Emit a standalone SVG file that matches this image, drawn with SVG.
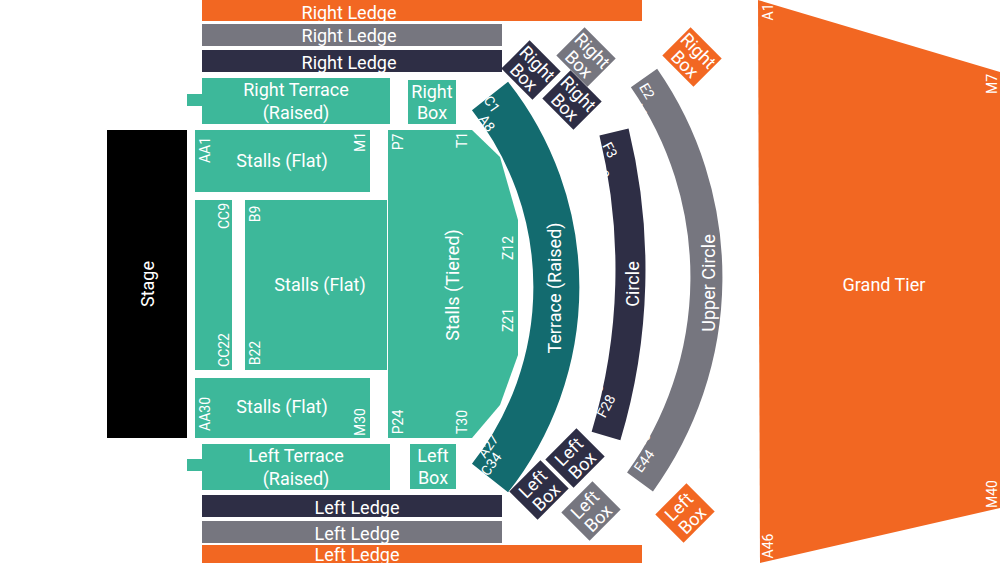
<svg xmlns="http://www.w3.org/2000/svg" width="1000" height="563" viewBox="0 0 1000 563">
<style>
text{font-family:Roboto,"Liberation Sans",sans-serif;fill:#fff;text-anchor:middle;dominant-baseline:central}
.l{font-size:18px}.s{font-size:14px}
.teal{fill:#3db89a}.dteal{fill:#136b6f}.navy{fill:#2e2e45}.gray{fill:#76767f}.or{fill:#f26722}
</style>
<rect width="1000" height="563" fill="#fff"/>
<g id="stage"><rect x="107" y="130" width="80" height="308" fill="#000"/><text class="l" transform="translate(147,284) rotate(-90)">Stage</text></g>
<g id="ledges">
<rect class="or" x="202" y="0" width="440" height="21"/><text class="l" x="349" y="12">Right Ledge</text>
<rect class="gray" x="202" y="24" width="300" height="22"/><text class="l" x="349" y="35">Right Ledge</text>
<rect class="navy" x="202" y="50" width="300" height="22"/><text class="l" x="349" y="62">Right Ledge</text>
<rect class="navy" x="202" y="495" width="300" height="22"/><text class="l" x="357" y="507">Left Ledge</text>
<rect class="gray" x="202" y="521" width="300" height="22"/><text class="l" x="357" y="533">Left Ledge</text>
<rect class="or" x="202" y="545" width="440" height="18"/><text class="l" x="357" y="554">Left Ledge</text>
</g>
<g id="terraces">
<rect class="teal" x="202" y="78" width="188" height="46"/><rect class="teal" x="187" y="94" width="16" height="12"/>
<text class="l" x="296" y="89">Right Terrace</text><text class="l" x="296" y="112">(Raised)</text>
<rect class="teal" x="202" y="444" width="188" height="46"/><rect class="teal" x="187" y="459" width="16" height="12"/>
<text class="l" x="296" y="455">Left Terrace</text><text class="l" x="296" y="478">(Raised)</text>
</g>
<g id="stalls-flat">
<rect class="teal" x="195" y="130" width="175" height="62"/><text class="l" x="282" y="160">Stalls (Flat)</text>
<text class="s" transform="translate(205,150) rotate(-90)">AA1</text><text class="s" transform="translate(360,142) rotate(-90)">M1</text>
<rect class="teal" x="195" y="200" width="37" height="170"/>
<text class="s" transform="translate(224,216) rotate(-90)">CC9</text><text class="s" transform="translate(224,350) rotate(-90)">CC22</text>
<rect class="teal" x="245" y="200" width="142" height="170"/><text class="l" x="320" y="284">Stalls (Flat)</text>
<text class="s" transform="translate(255,214) rotate(-90)">B9</text><text class="s" transform="translate(255,353) rotate(-90)">B22</text>
<rect class="teal" x="195" y="378" width="175" height="60"/><text class="l" x="282" y="406">Stalls (Flat)</text>
<text class="s" transform="translate(205,414) rotate(-90)">AA30</text><text class="s" transform="translate(360,422) rotate(-90)">M30</text>
</g>
<g id="stalls-tiered">
<polygon class="teal" points="388,130 472,130 500,157 518,220 518,355 500,405 472,438 388,438"/>
<text class="l" transform="translate(452,285) rotate(-90)">Stalls (Tiered)</text>
<text class="s" transform="translate(398,142) rotate(-90)">P7</text><text class="s" transform="translate(462,140) rotate(-90)">T1</text>
<text class="s" transform="translate(398,422) rotate(-90)">P24</text><text class="s" transform="translate(462,422) rotate(-90)">T30</text>
<text class="s" transform="translate(508,248) rotate(-90)">Z12</text><text class="s" transform="translate(508,320) rotate(-90)">Z21</text>
</g>
<g id="teal-boxes">
<rect class="teal" x="408" y="80" width="48" height="44"/><text class="l" x="432" y="91">Right</text><text class="l" x="432" y="112">Box</text>
<rect class="teal" x="410" y="444" width="46" height="45"/><text class="l" x="433" y="455">Left</text><text class="l" x="433" y="477">Box</text>
</g>
<g id="terrace">
<path d="M490,96 A308,308 0 0 1 490,478" fill="none" stroke="#136b6f" stroke-width="46"/>
<text class="l" transform="translate(554,288) rotate(-90)">Terrace (Raised)</text>
<text class="s" transform="translate(492,104) rotate(55)">C1</text><text class="s" transform="translate(487,123) rotate(55)">A8</text>
<text class="s" transform="translate(488,446) rotate(-55)">A27</text><text class="s" transform="translate(491,464) rotate(-55)">C34</text>
</g>
<g id="circle">
<path d="M614,132 A580,580 0 0 1 606,436" fill="none" stroke="#2e2e45" stroke-width="30"/>
<text class="l" transform="translate(632,284) rotate(-90)">Circle</text>
<text class="s" transform="translate(610,150) rotate(62)">F3</text><text class="s" transform="translate(600,167) rotate(62)">A10</text>
<text class="s" transform="translate(594,395) rotate(-62)">A28</text><text class="s" transform="translate(606,406) rotate(-62)">F28</text>
</g>
<g id="upper-circle">
<path d="M644,78 A349,349 0 0 1 640,482" fill="none" stroke="#76767f" stroke-width="32"/>
<text class="l" transform="translate(708,283) rotate(-90)">Upper Circle</text>
<text class="s" transform="translate(647,91) rotate(60)">E2</text><text class="s" transform="translate(640,110) rotate(60)">A1</text>
<text class="s" transform="translate(640,443) rotate(-55)">A45</text><text class="s" transform="translate(644,461) rotate(-55)">E44</text>
</g>
<g id="angled-boxes">
<g transform="translate(531,70) rotate(45)"><rect class="navy" x="-22" y="-20" width="44" height="40"/><text class="l" y="-9">Right</text><text class="l" y="10">Box</text></g>
<g transform="translate(586,57) rotate(45)"><rect class="gray" x="-22" y="-20" width="44" height="40"/><text class="l" y="-9">Right</text><text class="l" y="10">Box</text></g>
<g transform="translate(572,100) rotate(45)"><rect class="navy" x="-22" y="-20" width="44" height="40"/><text class="l" y="-9">Right</text><text class="l" y="10">Box</text></g>
<g transform="translate(692,57) rotate(45)"><rect class="or" x="-22" y="-20" width="44" height="40"/><text class="l" y="-9">Right</text><text class="l" y="10">Box</text></g>
<g transform="translate(539,490) rotate(-45)"><rect class="navy" x="-22" y="-20" width="44" height="40"/><text class="l" y="-9">Left</text><text class="l" y="10">Box</text></g>
<g transform="translate(575,458) rotate(-45)"><rect class="navy" x="-22" y="-20" width="44" height="40"/><text class="l" y="-9">Left</text><text class="l" y="10">Box</text></g>
<g transform="translate(591,511) rotate(-45)"><rect class="gray" x="-22" y="-20" width="44" height="40"/><text class="l" y="-9">Left</text><text class="l" y="10">Box</text></g>
<g transform="translate(685,513) rotate(-45)"><rect class="or" x="-22" y="-20" width="44" height="40"/><text class="l" y="-9">Left</text><text class="l" y="10">Box</text></g>
</g>
<g id="grand-tier">
<polygon class="or" points="758,0 1000,72 1000,508 760,563"/>
<text class="l" x="884" y="284">Grand Tier</text>
<text class="s" transform="translate(768,12) rotate(-90)">A1</text><text class="s" transform="translate(992,84) rotate(-90)">M7</text>
<text class="s" transform="translate(992,494) rotate(-90)">M40</text><text class="s" transform="translate(768,546) rotate(-90)">A46</text>
</g>
</svg>
